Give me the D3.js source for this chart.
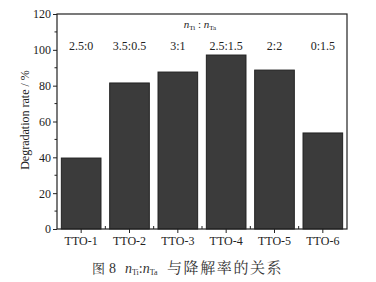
<!DOCTYPE html>
<html><head><meta charset="utf-8">
<script src="https://cdn.jsdelivr.net/npm/d3@7"></script>
<style>body{margin:0;background:#fff}svg{display:block}</style>
</head><body>
<svg id="c" width="376" height="282"></svg>
<script>
const categories = ["TTO-1","TTO-2","TTO-3","TTO-4","TTO-5","TTO-6"];
const values = [39.6, 81.5, 87.6, 97.1, 88.7, 53.6];
const ratioLabels = ["2.5:0","3.5:0.5","3:1","2.5:1.5","2:2","0:1.5"];
const yTicks = [0,20,40,60,80,100,120];
const yMinor = [10,30,50,70,90,110];

const svg = d3.select("#c");
const L=57, R=347, T=14, B=229;
const font = "'Liberation Serif','Times New Roman',serif";
const cjk = "'Noto Serif CJK SC','Noto Sans CJK SC',serif";
const x = d3.scaleBand().domain(categories).range([L,R]).paddingInner(0.18).paddingOuter(0.09);
const y = d3.scaleLinear().domain([0,120]).range([B,T]);

// bars
svg.selectAll("rect.bar").data(values).enter().append("rect")
  .attr("x",(d,i)=>x(categories[i])).attr("y",d=>y(d))
  .attr("width",x.bandwidth()).attr("height",d=>B-y(d))
  .attr("fill","#3b3b3b").attr("stroke","#222").attr("stroke-width",1);

// frame
svg.append("rect").attr("x",L).attr("y",T).attr("width",R-L).attr("height",B-T)
  .attr("fill","none").attr("stroke","#222").attr("stroke-width",1.2);

// y axis
const ya = svg.append("g").attr("transform",`translate(${L},0)`)
  .call(d3.axisLeft(y).tickValues(yTicks).tickSize(4).tickPadding(2));
ya.select(".domain").remove();
ya.selectAll("text").attr("font-family",font).attr("font-size",12).attr("fill","#222");
ya.selectAll("line").attr("stroke","#222");
svg.selectAll("line.ym").data(yMinor).enter().append("line")
  .attr("x1",L-2.5).attr("x2",L).attr("y1",d=>y(d)).attr("y2",d=>y(d)).attr("stroke","#222");

// x axis
const xa = svg.append("g").attr("transform",`translate(0,${B})`)
  .call(d3.axisBottom(x).tickSize(4).tickPadding(3));
xa.select(".domain").remove();
xa.selectAll("text").attr("font-family",font).attr("font-size",12).attr("fill","#222");
xa.selectAll("line").attr("stroke","#222");
// minor ticks at band boundaries
const bounds = categories.slice(1).map(c=>x(c)-x.step()*x.paddingInner()/2);
svg.selectAll("line.xm").data(bounds).enter().append("line")
  .attr("x1",d=>d).attr("x2",d=>d).attr("y1",B).attr("y2",B-3).attr("stroke","#222");

// ratio labels
svg.selectAll("text.ratio").data(ratioLabels).enter().append("text")
  .attr("x",(d,i)=>x(categories[i])+x.bandwidth()/2).attr("y",50)
  .attr("text-anchor","middle").attr("font-family",font).attr("font-size",12).attr("fill","#222")
  .text(d=>d);

// n_Ti : n_Ta
const h = svg.append("text").attr("x",200).attr("y",28).attr("text-anchor","middle")
  .attr("font-family",font).attr("font-size",11).attr("fill","#222");
h.append("tspan").attr("font-style","italic").text("n");
h.append("tspan").attr("font-size",7).attr("dy",2).text("Ti");
h.append("tspan").attr("dy",-2).text(" : ");
h.append("tspan").attr("font-style","italic").text("n");
h.append("tspan").attr("font-size",7).attr("dy",2).text("Ta");

// y label
svg.append("text").attr("transform","translate(29,120) rotate(-90)").attr("text-anchor","middle")
  .attr("font-family",font).attr("font-size",12).attr("fill","#222").text("Degradation rate / %");

// caption
svg.append("text").attr("x",92).attr("y",273).attr("font-family",cjk).attr("font-size",13)
  .attr("fill","#333").text("图");
svg.append("text").attr("x",109).attr("y",273).attr("font-family",font).attr("font-size",14)
  .attr("fill","#333").text("8");
const cap = svg.append("text").attr("x",125).attr("y",273)
  .attr("font-family",font).attr("font-size",14).attr("fill","#333");
cap.append("tspan").attr("font-style","italic").text("n");
cap.append("tspan").attr("font-size",8).attr("dy",2).text("Ti");
cap.append("tspan").attr("dy",-2).text(":");
cap.append("tspan").attr("font-style","italic").text("n");
cap.append("tspan").attr("font-size",8).attr("dy",2).text("Ta");
svg.append("text").attr("x",167).attr("y",273).attr("font-family",cjk).attr("font-size",15)
  .attr("letter-spacing",1.6).attr("fill","#333").text("与降解率的关系");
</script>
</body></html>
